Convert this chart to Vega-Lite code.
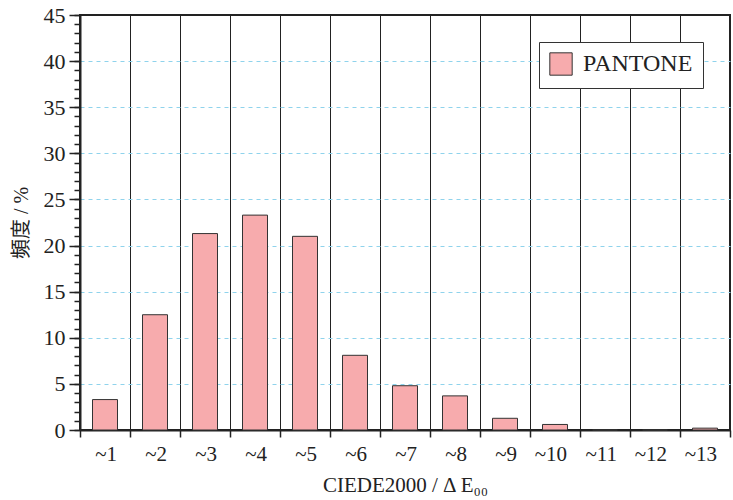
{
  "$schema": "https://vega.github.io/schema/vega-lite/v6.json",
  "width": 650,
  "height": 415,
  "autosize": {"type": "none"},
  "padding": {"left": 80, "top": 15, "right": 3, "bottom": 70},
  "background": "white",
  "config": {
    "view": {"stroke": "#222", "strokeWidth": 2},
    "font": "Liberation Serif"
  },
  "data": {
    "values": [
      {"bin": "~1", "value": 3.3, "series": "PANTONE"},
      {"bin": "~2", "value": 12.5, "series": "PANTONE"},
      {"bin": "~3", "value": 21.3, "series": "PANTONE"},
      {"bin": "~4", "value": 23.3, "series": "PANTONE"},
      {"bin": "~5", "value": 21.0, "series": "PANTONE"},
      {"bin": "~6", "value": 8.1, "series": "PANTONE"},
      {"bin": "~7", "value": 4.8, "series": "PANTONE"},
      {"bin": "~8", "value": 3.7, "series": "PANTONE"},
      {"bin": "~9", "value": 1.27, "series": "PANTONE"},
      {"bin": "~10", "value": 0.6, "series": "PANTONE"},
      {"bin": "~11", "value": 0, "series": "PANTONE"},
      {"bin": "~12", "value": 0, "series": "PANTONE"},
      {"bin": "~13", "value": 0.2, "series": "PANTONE"}
    ]
  },
  "resolve": {"axis": {"y": "independent"}},
  "layer": [
    {
      "mark": {"type": "bar", "opacity": 0},
      "encoding": {
        "x": {"field": "bin", "type": "nominal", "sort": null, "scale": {"paddingInner": 0, "paddingOuter": 0}},
        "y": {
          "field": "value", "type": "quantitative",
          "scale": {"domain": [0, 45], "nice": false},
          "axis": {
            "orient": "left",
            "values": [0,1,2,3,4,5,6,7,8,9,10,11,12,13,14,15,16,17,18,19,20,21,22,23,24,25,26,27,28,29,30,31,32,33,34,35,36,37,38,39,40,41,42,43,44,45],
            "labels": false, "grid": false, "domain": false,
            "tickSize": 6, "tickColor": "#222", "tickWidth": 1.5, "title": null
          }
        }
      }
    },
    {
      "mark": {"type": "bar", "stroke": "#333", "strokeWidth": 1, "width": {"band": 0.5}},
      "encoding": {
        "x": {
          "field": "bin", "type": "nominal", "sort": null,
          "scale": {"paddingInner": 0, "paddingOuter": 0},
          "axis": {
            "title": "CIEDE2000 / Δ E₀₀",
            "titleFont": "Liberation Serif",
            "titleFontSize": 21,
            "titleFontWeight": "normal",
            "titleColor": "#222",
            "titlePadding": 10,
            "labelAngle": 0,
            "labelFont": "Liberation Serif",
            "labelFontSize": 21,
            "labelColor": "#222",
            "labelPadding": 17,
            "labelOffset": 12,
            "bandPosition": 1,
            "tickExtra": true,
            "tickSize": 7,
            "tickColor": "#222",
            "tickWidth": 1.5,
            "domainColor": "#222",
            "domainWidth": 2,
            "grid": true,
            "gridColor": "#222",
            "gridWidth": 1
          }
        },
        "y": {
          "field": "value", "type": "quantitative",
          "scale": {"domain": [0, 45], "nice": false},
          "axis": {
            "orient": "left",
            "values": [0,5,10,15,20,25,30,35,40,45],
            "title": "頻度 / %",
            "titleFont": "'Liberation Serif', 'Noto Sans CJK JP'",
            "titleFontSize": 20,
            "titleFontWeight": "normal",
            "titleColor": "#222",
            "titlePadding": 12,
            "labelFont": "Liberation Serif",
            "labelFontSize": 22,
            "labelColor": "#222",
            "labelPadding": 4,
            "tickSize": 11,
            "tickColor": "#222",
            "tickWidth": 1.5,
            "domainColor": "#222",
            "domainWidth": 2,
            "grid": true,
            "gridColor": "#8fd3ec",
            "gridDash": [4, 4],
            "gridWidth": 1,
            "gridOpacity": {"condition": {"test": "datum.value == 45 || datum.value == 0", "value": 0}, "value": 1}
          }
        },
        "color": {
          "field": "series", "type": "nominal",
          "scale": {"range": ["#f7abad"]},
          "legend": {
            "title": null,
            "orient": "none",
            "legendX": 459,
            "legendY": 27,
            "direction": "vertical",
            "fillColor": "white",
            "strokeColor": "#333",
            "padding": 10,
            "symbolType": "square",
            "symbolSize": 500,
            "symbolStrokeColor": "#333",
            "symbolStrokeWidth": 1,
            "symbolOpacity": 1,
            "labelFont": "Liberation Serif",
            "labelFontSize": 24,
            "labelColor": "#222",
            "labelOffset": 10,
            "labelLimit": 300
          }
        }
      }
    }
  ]
}
